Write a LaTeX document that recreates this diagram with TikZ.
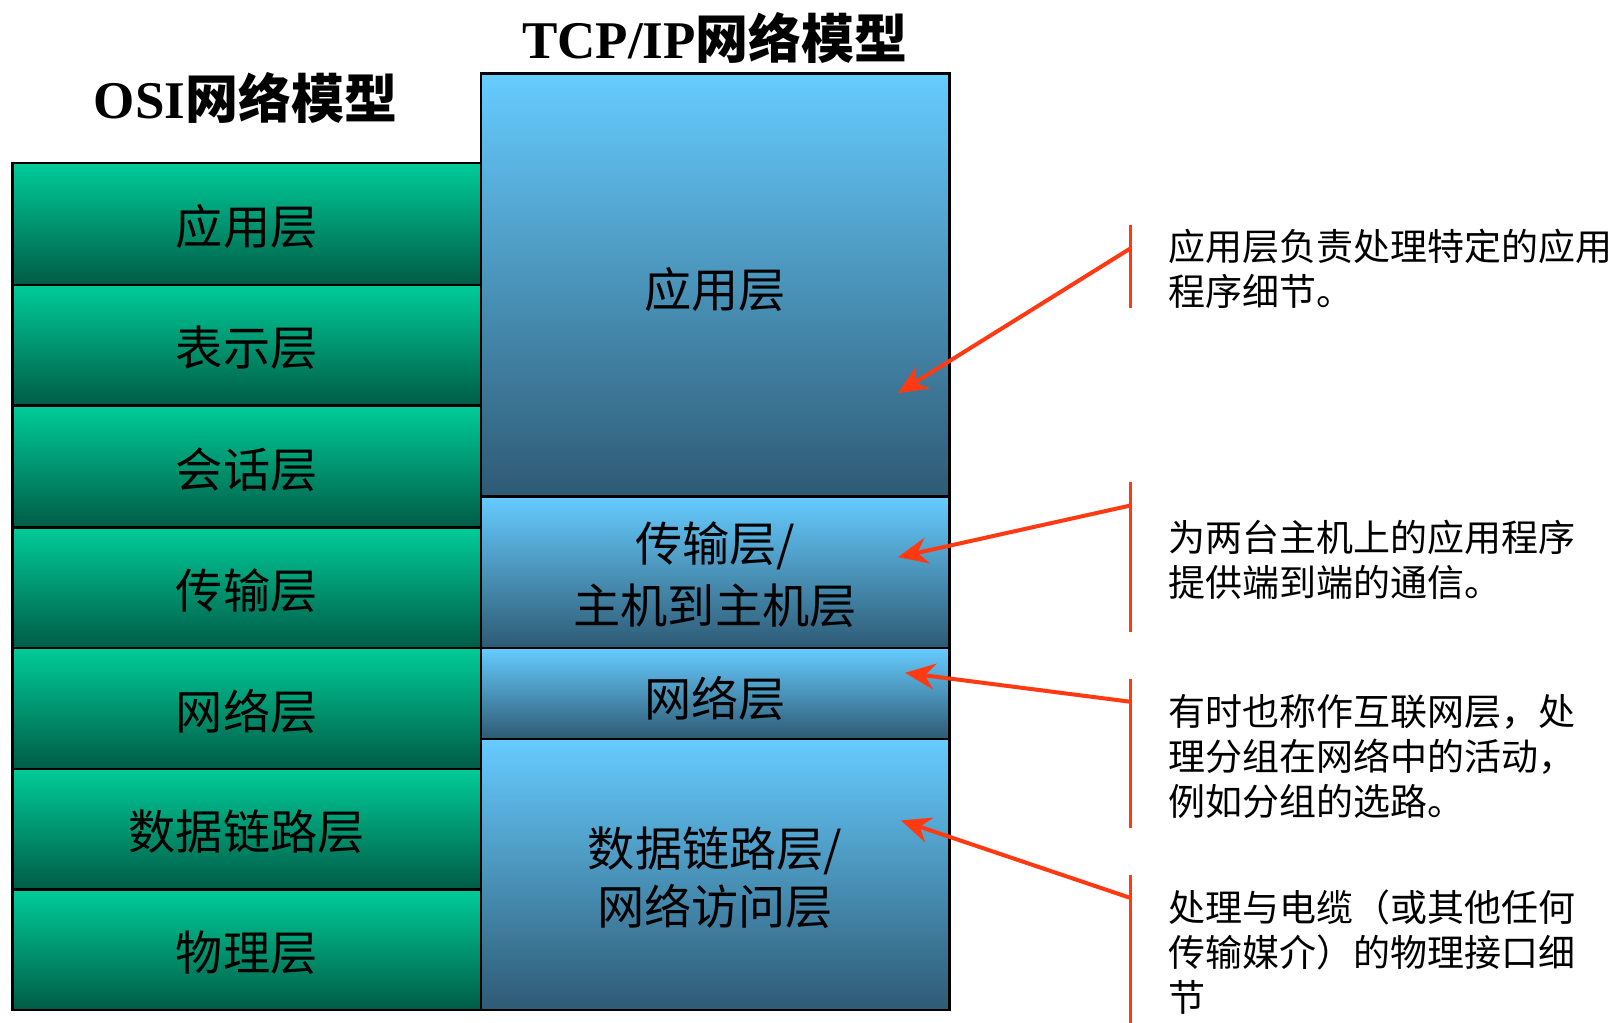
\documentclass[tikz,border=0pt]{standalone}
\usepackage{fontspec}
\setmainfont{Liberation Serif}
\newfontfamily\cjk{Noto Sans CJK SC}
\usetikzlibrary{arrows.meta}
\definecolor{osiTop}{RGB}{0,204,153}
\definecolor{osiBot}{RGB}{0,92,70}
\definecolor{tcpTop}{RGB}{102,204,255}
\definecolor{tcpBot}{RGB}{46,90,116}
\definecolor{callred}{RGB}{255,58,18}
\tikzset{
  layerbox/.style={draw=black, line width=1.2pt, inner sep=0pt, outer sep=0pt, anchor=north west, minimum width=234.2pt},
  osibox/.style={layerbox, top color=osiTop, bottom color=osiBot},
  tcpbox/.style={layerbox, top color=tcpTop, bottom color=tcpBot},
  lbl/.style={inner sep=0pt, align=center, yshift=-1.5pt, font=\cjk\fontsize{23.6}{30}\selectfont},
  titletext/.style={inner sep=0pt, font=\fontsize{26.5}{30}\selectfont\bfseries},
  notetext/.style={inner sep=0pt, anchor=west, align=left, font=\cjk\fontsize{18.5}{22.5}\selectfont},
  bar/.style={draw=callred, line width=1.5pt},
  callout/.style={draw=callred, line width=2pt, -{Stealth[length=15pt,width=13pt,inset=5pt]}}
}
\begin{document}
\begin{tikzpicture}[x=0.5pt,y=-0.5pt]
\useasboundingbox (0,0) rectangle (1618,1023);
% titles
\node[titletext] (osititle) at (245.6,98) {OSI{\cjk\bfseries 网络模型}};
\node[titletext] (tcptitle) at (715,38) {TCP/IP{\cjk\bfseries 网络模型}};
% OSI column
\node[osibox, minimum height=60.9pt] (o1) at (12.4,163) {};
\node[osibox, minimum height=60.35pt] (o2) at (12.4,284.8) {};
\node[osibox, minimum height=60.9pt] (o3) at (12.4,405.5) {};
\node[osibox, minimum height=60.35pt] (o4) at (12.4,527.3) {};
\node[osibox, minimum height=60.4pt] (o5) at (12.4,648) {};
\node[osibox, minimum height=60.35pt] (o6) at (12.4,768.8) {};
\node[osibox, minimum height=60.35pt] (o7) at (12.4,889.5) {};
\node[lbl] (o1l) at (o1.center) {应用层};
\node[lbl] (o2l) at (o2.center) {表示层};
\node[lbl] (o3l) at (o3.center) {会话层};
\node[lbl] (o4l) at (o4.center) {传输层};
\node[lbl] (o5l) at (o5.center) {网络层};
\node[lbl] (o6l) at (o6.center) {数据链路层};
\node[lbl] (o7l) at (o7.center) {物理层};
% TCP/IP column
\node[tcpbox, minimum height=211.5pt] (t1) at (480.9,73.3) {};
\node[tcpbox, minimum height=75.85pt] (t2) at (480.9,496.3) {};
\node[tcpbox, minimum height=45.4pt] (t3) at (480.9,648) {};
\node[tcpbox, minimum height=135.7pt] (t4) at (480.9,738.8) {};
\node[lbl, yshift=-1pt] (t1l) at (t1.center) {应用层};
\node[lbl] (t2l) at (t2.center) {传输层/\\[1pt]主机到主机层};
\node[lbl, yshift=-1pt] (t3l) at (t3.center) {网络层};
\node[lbl] (t4l) at (t4.center) {数据链路层/\\[-1pt]网络访问层};
% callout bars
\coordinate (b1t) at (1130,225);   \coordinate (b1b) at (1130,307.5);
\coordinate (b2t) at (1130,482);   \coordinate (b2b) at (1130,631.5);
\coordinate (b3t) at (1130,679);   \coordinate (b3b) at (1130,827.6);
\coordinate (b4t) at (1130,875);   \coordinate (b4b) at (1130,1023);
\draw[bar] (b1t) -- (b1b);
\draw[bar] (b2t) -- (b2b);
\draw[bar] (b3t) -- (b3b);
\draw[bar] (b4t) -- (b4b);
% arrows
\coordinate (a1s) at (1130,248.7); \coordinate (a1e) at (897.8,393.2);
\coordinate (a2s) at (1130,505.6); \coordinate (a2e) at (897.8,557.2);
\coordinate (a3s) at (1130,701.7); \coordinate (a3e) at (905,672.8);
\coordinate (a4s) at (1130,897.8); \coordinate (a4e) at (900.8,820.4);
\draw[callout] (a1s) -- (a1e);
\draw[callout] (a2s) -- (a2e);
\draw[callout] (a3s) -- (a3e);
\draw[callout] (a4s) -- (a4e);
% notes
\node[notetext] (n1) at (1168,268.8) {应用层负责处理特定的应用\\程序细节。};
\node[notetext] (n2) at (1168,559.8) {为两台主机上的应用程序\\提供端到端的通信。};
\node[notetext] (n3) at (1168,756.4) {有时也称作互联网层，处\\理分组在网络中的活动，\\例如分组的选路。};
\node[notetext] (n4) at (1168,952.5) {处理与电缆（或其他任何\\传输媒介）的物理接口细\\节};
\end{tikzpicture}
\end{document}
